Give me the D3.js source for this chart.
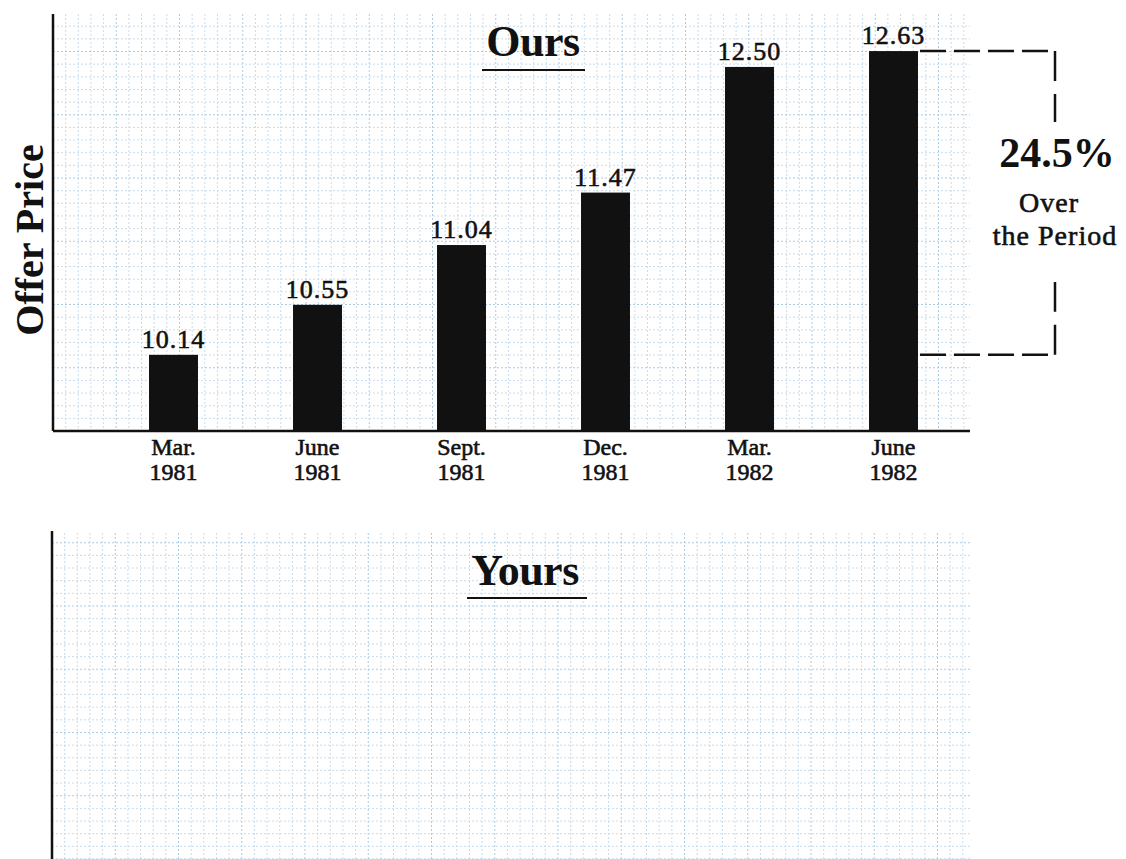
<!DOCTYPE html>
<html>
<head>
<meta charset="utf-8">
<script src="https://cdn.jsdelivr.net/npm/d3@7"></script>
<style>
  html, body { margin: 0; padding: 0; background: #fff; }
  svg { display: block; }
  text { font-family: "Liberation Serif", "Times New Roman", serif; fill: #111; }
  .heavy { stroke: #111; stroke-width: 0.6px; }
</style>
</head>
<body>
<svg id="chart" width="1126" height="859"></svg>
<script>
// Quarterly offer price of the fund
const quarters = ["Mar.", "June", "Sept.", "Dec.", "Mar.", "June"];
const years    = ["1981", "1981", "1981", "1981", "1982", "1982"];
const prices   = [10.14, 10.55, 11.04, 11.47, 12.50, 12.63];
const changeLabel = ["24.5%", "Over", "the Period"];

const svg = d3.select("#chart");
const keys = prices.map((_, i) => i);

// Panel geometry
const upper = { left: 53, right: 970, top: 14, bottom: 431 };
const lower = { left: 52, right: 970, top: 533, bottom: 859 };
const cell = 12.65;

// Graph-paper grid: fine dotted blue lines, a touch darker every fifth line
function grid(p) {
  const gg = svg.append("g");
  const xs = d3.range(p.left, p.right + 0.1, cell);
  const ys = d3.range(p.bottom, p.top - 0.1, -cell);
  gg.selectAll(".gv").data(xs).join("line")
    .attr("x1", d => d).attr("x2", d => d)
    .attr("y1", p.top).attr("y2", p.bottom)
    .attr("stroke", (d, i) => i % 5 === 0 ? "#abcbe3" : "#c8dcec")
    .attr("stroke-width", 1)
    .attr("stroke-dasharray", "2,2");
  gg.selectAll(".gh").data(ys).join("line")
    .attr("y1", d => d).attr("y2", d => d)
    .attr("x1", p.left).attr("x2", p.right)
    .attr("stroke", (d, i) => i % 5 === 0 ? "#abcbe3" : "#c8dcec")
    .attr("stroke-width", 1)
    .attr("stroke-dasharray", "2,2");
}
grid(upper);
grid(lower);

// Scales
const x = d3.scaleBand().domain(keys)
  .range([101.5, 965.5]).paddingInner(0.66).paddingOuter(0.33);
const y = d3.scaleLinear().domain([9.5155, 12.934]).range([upper.bottom, upper.top]);

// Bars
svg.append("g").selectAll("rect").data(prices).join("rect")
  .attr("x", (d, i) => x(i))
  .attr("width", x.bandwidth())
  .attr("y", d => y(d))
  .attr("height", d => y.range()[0] - y(d))
  .attr("fill", "#111");

// Value labels
svg.append("g").selectAll("text").data(prices).join("text")
  .attr("class", "heavy")
  .attr("x", (d, i) => x(i) + x.bandwidth() / 2)
  .attr("y", d => y(d) - 7)
  .attr("text-anchor", "middle")
  .attr("font-size", 26)
  .attr("letter-spacing", 1)
  .text(d => d.toFixed(2));

// Category labels (two lines)
const cat = svg.append("g").selectAll("text").data(keys).join("text")
  .attr("class", "heavy")
  .attr("text-anchor", "middle")
  .attr("font-size", 24);
cat.append("tspan")
  .attr("x", i => x(i) + x.bandwidth() / 2).attr("y", 455)
  .text(i => quarters[i]);
cat.append("tspan")
  .attr("x", i => x(i) + x.bandwidth() / 2).attr("y", 480)
  .text(i => years[i]);

// Axes
svg.append("line").attr("x1", upper.left).attr("x2", upper.left)
  .attr("y1", upper.top).attr("y2", upper.bottom)
  .attr("stroke", "#111").attr("stroke-width", 2.5);
svg.append("line").attr("x1", upper.left).attr("x2", upper.right)
  .attr("y1", upper.bottom).attr("y2", upper.bottom)
  .attr("stroke", "#111").attr("stroke-width", 2.5);
svg.append("line").attr("x1", lower.left).attr("x2", lower.left)
  .attr("y1", lower.top - 2).attr("y2", lower.bottom)
  .attr("stroke", "#111").attr("stroke-width", 2.5);

// Y-axis title
svg.append("text")
  .attr("transform", "translate(43,240) rotate(-90)")
  .attr("text-anchor", "middle")
  .attr("font-size", 40)
  .attr("font-weight", "bold")
  .text("Offer Price");

// Panel titles with underlines
function title(label, cx, baseline, ulY, ulX1, ulX2) {
  svg.append("text").attr("x", cx).attr("y", baseline)
    .attr("text-anchor", "middle")
    .attr("font-size", 44).attr("font-weight", "bold")
    .attr("letter-spacing", -0.5)
    .text(label);
  svg.append("line").attr("x1", ulX1).attr("x2", ulX2)
    .attr("y1", ulY).attr("y2", ulY)
    .attr("stroke", "#111").attr("stroke-width", 2);
}
title("Ours", 533, 56, 70, 482, 585);
title("Yours", 525, 585, 598, 467, 587);

// Bracket showing the change from first to last quarter
const first = prices[0], last = prices[prices.length - 1];
const bx0 = x(keys.length - 1) + x.bandwidth() + 2;
const bx1 = 1055;
const br = svg.append("g").attr("stroke", "#111").attr("stroke-width", 2.5)
  .attr("fill", "none").attr("stroke-dasharray", "26,8");
br.append("line").attr("x1", bx0).attr("x2", bx1).attr("y1", y(last)).attr("y2", y(last));
br.append("line").attr("x1", bx0).attr("x2", bx1).attr("y1", y(first)).attr("y2", y(first));
br.append("path")
  .attr("stroke-dasharray", "30,13")
  .attr("d", `M${bx1},${y(last)} V122`);
br.append("path")
  .attr("stroke-dasharray", "30,13")
  .attr("d", `M${bx1},${y(first)} V282`);

svg.append("text").attr("x", 1057).attr("y", 167)
  .attr("text-anchor", "middle").attr("font-size", 42).attr("font-weight", "bold")
  .text(changeLabel[0]);
svg.append("text").attr("class", "heavy").attr("x", 1049).attr("y", 212)
  .attr("text-anchor", "middle").attr("font-size", 28).attr("letter-spacing", 1)
  .text(changeLabel[1]);
svg.append("text").attr("class", "heavy").attr("x", 1055).attr("y", 245)
  .attr("text-anchor", "middle").attr("font-size", 28).attr("letter-spacing", 1)
  .text(changeLabel[2]);
</script>
</body>
</html>
